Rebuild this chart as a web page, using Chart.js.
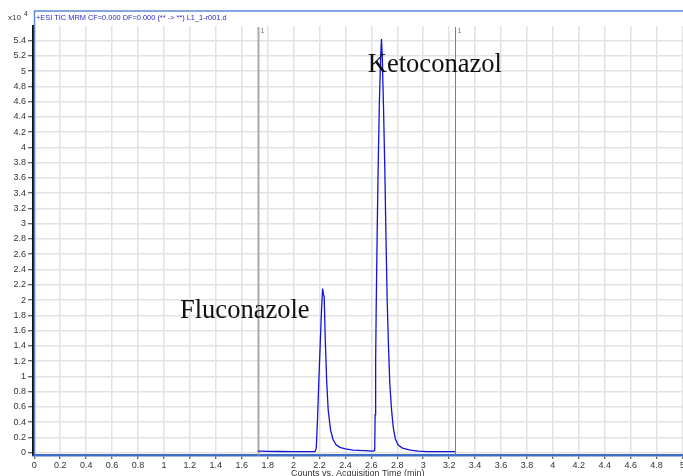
<!DOCTYPE html>
<html>
<head>
<meta charset="utf-8">
<script src="https://cdn.jsdelivr.net/npm/chart.js@4/dist/chart.umd.min.js"></script>
<style>
  html, body { margin: 0; padding: 0; background: #fff; overflow: hidden; }
  #wrap { width: 683px; height: 476px; overflow: hidden; }
</style>
</head>
<body>
<div id="wrap"><canvas id="tic" width="700" height="476"></canvas></div>
<script>
// TIC trace, counts in units of 10^4
const retentionTime = [
  1.725, 1.80, 1.90, 2.00, 2.10, 2.165, 2.175, 2.185, 2.195, 2.205, 2.215, 2.224,
  2.230, 2.236, 2.245, 2.255, 2.267, 2.285, 2.305, 2.330, 2.357, 2.400, 2.460,
  2.540, 2.615, 2.626, 2.629, 2.633, 2.638, 2.645, 2.652, 2.662, 2.672, 2.678,
  2.684, 2.694, 2.704, 2.713, 2.722, 2.732, 2.742, 2.755, 2.768, 2.785, 2.807,
  2.840, 2.900, 2.960, 3.030, 3.150, 3.245
];
const countsE4 = [
  0.020, 0.018, 0.016, 0.015, 0.015, 0.016, 0.06, 0.45, 0.95, 1.40, 1.85, 2.15,
  2.08, 2.04, 1.45, 0.95, 0.56, 0.30, 0.17, 0.10, 0.07, 0.05, 0.035,
  0.028, 0.022, 0.03, 0.50, 1.20, 2.00, 2.90, 3.70, 4.60, 5.20, 5.42,
  5.20, 4.50, 3.70, 2.80, 2.00, 1.40, 0.91, 0.58, 0.34, 0.18, 0.10,
  0.06, 0.035, 0.022, 0.015, 0.013, 0.013
];

const xTicks = [0, 0.2, 0.4, 0.6, 0.8, 1, 1.2, 1.4, 1.6, 1.8, 2, 2.2, 2.4, 2.6, 2.8,
  3, 3.2, 3.4, 3.6, 3.8, 4, 4.2, 4.4, 4.6, 4.8, 5];
const yTicks = [0, 0.2, 0.4, 0.6, 0.8, 1, 1.2, 1.4, 1.6, 1.8, 2, 2.2, 2.4, 2.6, 2.8,
  3, 3.2, 3.4, 3.6, 3.8, 4, 4.2, 4.4, 4.6, 4.8, 5, 5.2, 5.4];

// integration window markers
const markerTimes = [1.725, 3.245];
const markerNames = ['1', '1'];

const peakNames = ['Fluconazole', 'Ketoconazol'];
const peakLabelX = [1.124, 2.573];
const peakLabelY = [1.86, 5.08];

const titleText = '+ESI TIC MRM CF=0.000 DF=0.000 (** -> **) L1_1-r001.d';
const sans = '"Liberation Sans", Arial, sans-serif';

const decorPlugin = {
  id: 'decor',
  beforeDatasetsDraw(chart) {
    const { ctx, chartArea, scales } = chart;
    ctx.save();
    markerTimes.forEach((t, i) => {
      const px = Math.round(scales.x.getPixelForValue(t)) + 0.5;
      ctx.strokeStyle = i === 0 ? '#aaaaaa' : '#808080';
      ctx.lineWidth = i === 0 ? 2 : 1;
      ctx.beginPath();
      ctx.moveTo(px, chartArea.top + 1);
      ctx.lineTo(px, chartArea.bottom);
      ctx.stroke();
      ctx.fillStyle = '#777';
      ctx.font = '7px ' + sans;
      ctx.textBaseline = 'middle';
      ctx.fillText(markerNames[i], px + 2, chartArea.top + 5);
    });
    ctx.restore();
  },
  afterDraw(chart) {
    const { ctx, chartArea, scales } = chart;
    ctx.save();
    // blue frame round the plot
    ctx.strokeStyle = '#5b8ad8';
    ctx.lineWidth = 1.5;
    ctx.beginPath();
    ctx.moveTo(chartArea.left + 1.5, chartArea.bottom);
    ctx.lineTo(chartArea.left + 1.5, 11);
    ctx.lineTo(700, 11);
    ctx.stroke();

    ctx.fillStyle = '#2a2ad0';
    ctx.font = '7.4px ' + sans;
    ctx.textBaseline = 'middle';
    ctx.fillText(titleText, chartArea.left + 3, 17.5);

    // exponent label
    ctx.fillStyle = '#333';
    ctx.font = '8px ' + sans;
    ctx.fillText('x10', 8, 18);
    ctx.font = '7px ' + sans;
    ctx.fillText('4', 24, 14);

    // peak names
    ctx.fillStyle = '#111';
    ctx.font = '26.5px "Liberation Serif", "Times New Roman", serif';
    ctx.textBaseline = 'middle';
    peakNames.forEach((name, i) => {
      ctx.fillText(name, scales.x.getPixelForValue(peakLabelX[i]), scales.y.getPixelForValue(peakLabelY[i]));
    });
    ctx.restore();
  }
};

const ctx = document.getElementById('tic').getContext('2d');
new Chart(ctx, {
  type: 'line',
  data: {
    datasets: [{
      data: retentionTime.map((t, i) => ({ x: t, y: countsE4[i] })),
      borderColor: '#1212d8',
      borderWidth: 1.3,
      pointRadius: 0,
      tension: 0,
      fill: false
    }]
  },
  options: {
    responsive: false,
    animation: false,
    layout: { padding: { top: 26, right: 17.5, left: 0, bottom: 0 } },
    plugins: { legend: { display: false }, tooltip: { enabled: false } },
    scales: {
      x: {
        type: 'linear',
        min: -0.01,
        max: 5.0,
        afterBuildTicks: axis => { axis.ticks = xTicks.map(v => ({ value: v })); },
        afterFit: axis => { axis.height = 21; },
        ticks: {
          callback: v => String(v),
          color: '#333',
          font: { family: sans, size: 9 },
          padding: 1,
          maxRotation: 0,
          autoSkip: false
        },
        grid: { color: '#e2e2e2', lineWidth: 1.5, tickColor: '#333', tickLength: 4, tickWidth: 1 },
        border: { color: '#3d6fc6', width: 2.5 },
        title: {
          display: true,
          text: 'Counts vs. Acquisition Time (min)',
          color: '#333',
          font: { family: sans, size: 9 },
          padding: { top: 0, bottom: -3 }
        }
      },
      y: {
        min: -0.03,
        max: 5.59,
        afterBuildTicks: axis => { axis.ticks = yTicks.map(v => ({ value: v })); },
        afterFit: axis => { axis.width = 33; },
        ticks: {
          callback: v => String(v),
          color: '#333',
          font: { family: sans, size: 9 },
          padding: 2,
          autoSkip: false
        },
        grid: { color: '#e2e2e2', lineWidth: 1.5, tickColor: '#333', tickLength: 5, tickWidth: 1 },
        border: { color: '#111', width: 2 }
      }
    }
  },
  plugins: [decorPlugin]
});
</script>
</body>
</html>
